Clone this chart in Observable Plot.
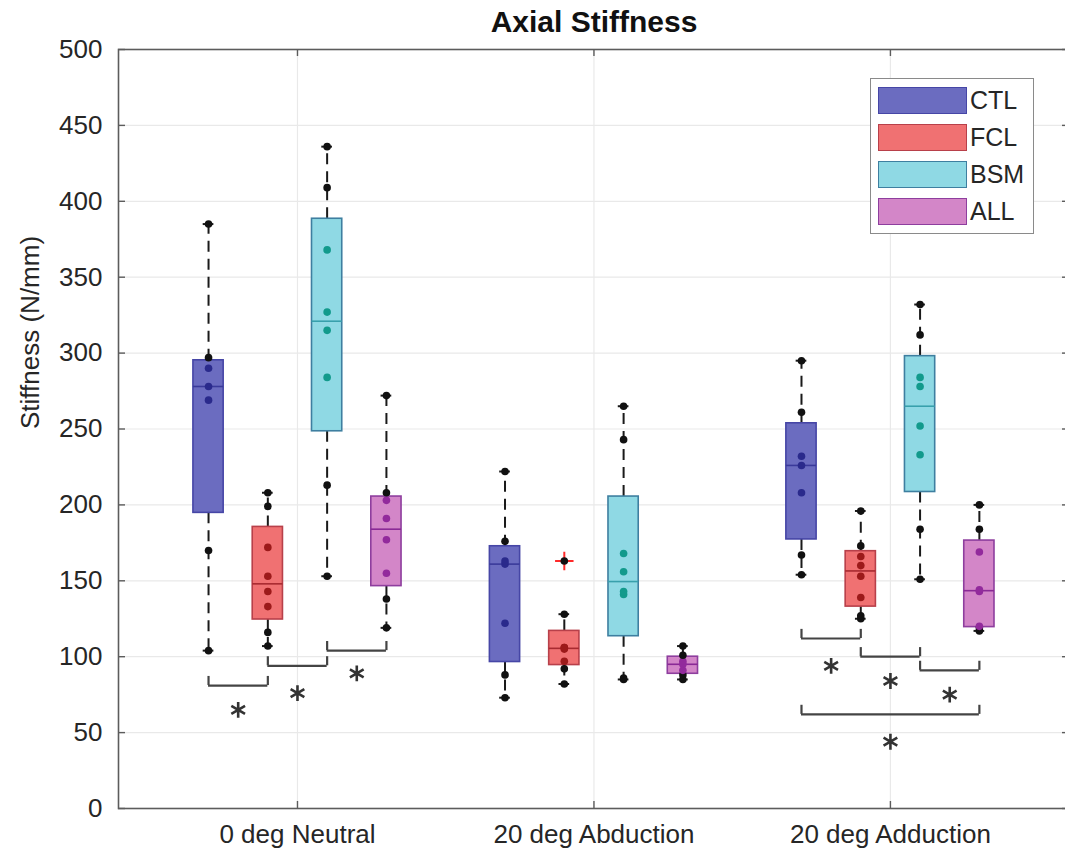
<!DOCTYPE html>
<html><head><meta charset="utf-8">
<script src="https://cdn.jsdelivr.net/npm/d3@7"></script>
<script src="https://cdn.jsdelivr.net/npm/@observablehq/plot@0.6"></script>
<style>
body{margin:0;background:#fff;font-family:"Liberation Sans",Arial,sans-serif;overflow:hidden;}
#wrap{position:relative;width:1065px;height:856px;overflow:hidden;}
#wrap svg{max-width:none !important;}
#legend{position:absolute;left:870px;top:78px;width:164px;height:156px;border:1.5px solid #8a8a8a;background:#fff;box-sizing:border-box;}
.item{position:absolute;left:7px;height:27px;display:flex;align-items:center;}
.sw{width:89px;height:27px;border:1.5px solid;box-sizing:border-box;}
.lab{margin-left:3px;font-size:25px;color:#262626;line-height:27px;}
</style></head><body><div id="wrap"><div id="legend"></div></div>
<script>
// ---- data ----
const groups = ["0 deg Neutral", "20 deg Abduction", "20 deg Adduction"];
const treatments = ["CTL", "FCL", "BSM", "ALL"];
const title = "Axial Stiffness";
const yLabel = "Stiffness (N/mm)";
const yTicks = [0, 50, 100, 150, 200, 250, 300, 350, 400, 450, 500];

const neutralCTL = [385, 297, 290, 278, 269, 170, 104];
const neutralFCL = [208, 199, 172, 153, 143, 133, 116, 107];
const neutralBSM = [436, 409, 368, 327, 315, 284, 213, 153];
const neutralALL = [272, 208, 203, 191, 177, 155, 138, 119];
const abductionCTL = [222, 176, 163, 161, 122, 88, 73];
const abductionFCL = [163, 128, 106, 106, 105, 97, 92, 82];
const abductionBSM = [265, 243, 168, 156, 143, 141, 86, 85];
const abductionALL = [107, 101, 97, 95, 91, 88, 85];
const adductionCTL = [295, 261, 232, 226, 208, 167, 154];
const adductionFCL = [196, 173, 166, 160, 153, 139, 127, 125];
const adductionBSM = [332, 312, 284, 278, 252, 233, 184, 151];
const adductionALL = [200, 184, 169, 144, 143, 120, 119, 117];

// significance brackets: group (1-based), from/to treatment index, bracket level, star level
const bracketGroup = [1, 1, 1, 3, 3, 3, 3];
const bracketFrom  = [0, 1, 2, 0, 1, 2, 0];
const bracketTo    = [1, 2, 3, 1, 2, 3, 3];
const bracketLevel = [81, 94, 104, 112, 100, 91, 62];
const starLevel    = [65, 76, 89, 94, 84, 75, 44];

// ---- styles ----
const fills = ["#6b6cc0", "#f07172", "#8fd9e4", "#d386c8"];
const edges = ["#4646a6", "#b8404a", "#3e7fa0", "#8e3e9e"];
const medians = ["#3a3a9a", "#a82a30", "#38a0ac", "#8a2a96"];
const innerDots = ["#2a2a8c", "#9c1a1a", "#129a8c", "#922a9c"];
const offsets = [-0.3, -0.1, 0.1, 0.3];
const halfBox = 0.051, halfCap = 0.018, tip = 6;

const series = [
  [neutralCTL, neutralFCL, neutralBSM, neutralALL],
  [abductionCTL, abductionFCL, abductionBSM, abductionALL],
  [adductionCTL, adductionFCL, adductionBSM, adductionALL]
];

// MATLAB-style percentile
function prc(s, p) {
  const n = s.length, pos = n * p + 0.5;
  if (pos <= 1) return s[0];
  if (pos >= n) return s[n - 1];
  const i = Math.floor(pos);
  return s[i - 1] + (pos - i) * (s[i] - s[i - 1]);
}

const stats = [], points = [], outliers = [];
series.forEach((row, g) => row.forEach((vals, t) => {
  const s = vals.slice().sort((a, b) => a - b);
  const q1 = prc(s, 0.25), med = prc(s, 0.5), q3 = prc(s, 0.75), iqr = q3 - q1;
  const inl = s.filter(v => v >= q1 - 1.5 * iqr && v <= q3 + 1.5 * iqr);
  const lo = d3.min(inl), hi = d3.max(inl);
  const pos = g + 1 + offsets[t];
  stats.push({g, t, pos, q1, med, q3, lo, hi});
  s.forEach(v => {
    points.push({pos, t, v, inside: v > q1 && v < q3});
    if (v < lo || v > hi) outliers.push({pos, v});
  });
}));

const brackets = bracketGroup.map((g, i) => ({
  a: g + offsets[bracketFrom[i]], b: g + offsets[bracketTo[i]],
  level: bracketLevel[i], star: starLevel[i]
}));
const bracketEnds = brackets.flatMap(d => [{x: d.a, level: d.level}, {x: d.b, level: d.level}]);

// the axes box runs slightly past the right edge of the picture, as in the reference
const H = 856, W = 1069, mt = 49, mb = 48, ml = 118, mr = 0;
const fh = H - mt - mb, fw = W - ml - mr;
const ink = "#262626";

const chart = Plot.plot({
  width: W, height: H,
  marginLeft: ml, marginRight: mr, marginTop: mt, marginBottom: mb,
  style: {fontFamily: "'Liberation Sans', Arial, sans-serif", background: "#fff", maxWidth: "none"},
  x: {type: "linear", domain: [0.3963, 3.604], axis: null},
  y: {domain: [0, 500], axis: null},
  marks: [
    Plot.gridY(yTicks, {stroke: "#e9e9e9", strokeOpacity: 1, strokeWidth: 1.2}),
    Plot.gridX([1, 2, 3], {stroke: "#e9e9e9", strokeOpacity: 1, strokeWidth: 1.2}),
    // whiskers
    Plot.ruleX(stats, {x: "pos", y1: "q3", y2: "hi", stroke: "#1a1a1a", strokeWidth: 2, strokeDasharray: "11,7"}),
    Plot.ruleX(stats, {x: "pos", y1: "q1", y2: "lo", stroke: "#1a1a1a", strokeWidth: 2, strokeDasharray: "11,7"}),
    Plot.ruleY(stats, {y: "hi", x1: d => d.pos - halfCap, x2: d => d.pos + halfCap, stroke: "#1a1a1a", strokeWidth: 2}),
    Plot.ruleY(stats, {y: "lo", x1: d => d.pos - halfCap, x2: d => d.pos + halfCap, stroke: "#1a1a1a", strokeWidth: 2}),
    // boxes
    Plot.rect(stats, {x1: d => d.pos - halfBox, x2: d => d.pos + halfBox, y1: "q1", y2: "q3",
      fill: d => fills[d.t], stroke: d => edges[d.t], strokeWidth: 1.6}),
    Plot.ruleY(stats, {y: "med", x1: d => d.pos - halfBox, x2: d => d.pos + halfBox, stroke: d => medians[d.t], strokeWidth: 1.6}),
    // outliers
    Plot.dot(outliers, {x: "pos", y: "v", symbol: "plus", r: 6, stroke: "#ff2a2a", strokeWidth: 2}),
    // data points
    Plot.dot(points, {x: "pos", y: "v", r: 3.8, fill: d => d.inside ? innerDots[d.t] : "#111", stroke: "none"}),
    // significance brackets
    Plot.ruleY(brackets, {y: "level", x1: "a", x2: "b", stroke: "#444", strokeWidth: 2.2}),
    Plot.ruleX(bracketEnds, {x: "x", y1: "level", y2: d => d.level + tip, stroke: "#444", strokeWidth: 2.2}),
    Plot.dot(brackets, {x: d => (d.a + d.b) / 2, y: "star", symbol: "asterisk", r: 7.5, stroke: "#333", strokeWidth: 2.6}),
    // axes
    Plot.frame({stroke: "#5c5c5c", strokeWidth: 1.6}),
    Plot.ruleY(yTicks, {insetRight: fw - 7, stroke: "#5c5c5c", strokeWidth: 1.4}),
    Plot.ruleY(yTicks, {insetLeft: fw - 7, stroke: "#5c5c5c", strokeWidth: 1.4}),
    Plot.ruleX([1, 2, 3], {insetTop: fh - 7, stroke: "#5c5c5c", strokeWidth: 1.4}),
    Plot.ruleX([1, 2, 3], {insetBottom: fh - 7, stroke: "#5c5c5c", strokeWidth: 1.4}),
    Plot.axisY({ticks: yTicks, tickSize: 0, tickPadding: 16, fontSize: 26, color: ink, label: null}),
    Plot.axisX({ticks: [1, 2, 3], tickFormat: i => groups[i - 1], tickSize: 0, tickPadding: 16, fontSize: 26, color: ink, label: null}),
    Plot.text([yLabel], {frameAnchor: "left", rotate: -90, dx: -88, fontSize: 26, fill: ink}),
    Plot.text([title], {frameAnchor: "top", lineAnchor: "middle", dy: -27, fontSize: 30, fontWeight: "bold", fill: "#111"})
  ]
});
document.getElementById("wrap").prepend(chart);

// legend
const legend = document.getElementById("legend");
const tops = [8, 45, 82, 119];
treatments.forEach((name, i) => {
  const item = document.createElement("div");
  item.className = "item";
  item.style.top = tops[i] + "px";
  const sw = document.createElement("div");
  sw.className = "sw";
  sw.style.background = fills[i];
  sw.style.borderColor = edges[i];
  const lab = document.createElement("span");
  lab.className = "lab";
  lab.textContent = name;
  item.append(sw, lab);
  legend.append(item);
});
</script></body></html>
